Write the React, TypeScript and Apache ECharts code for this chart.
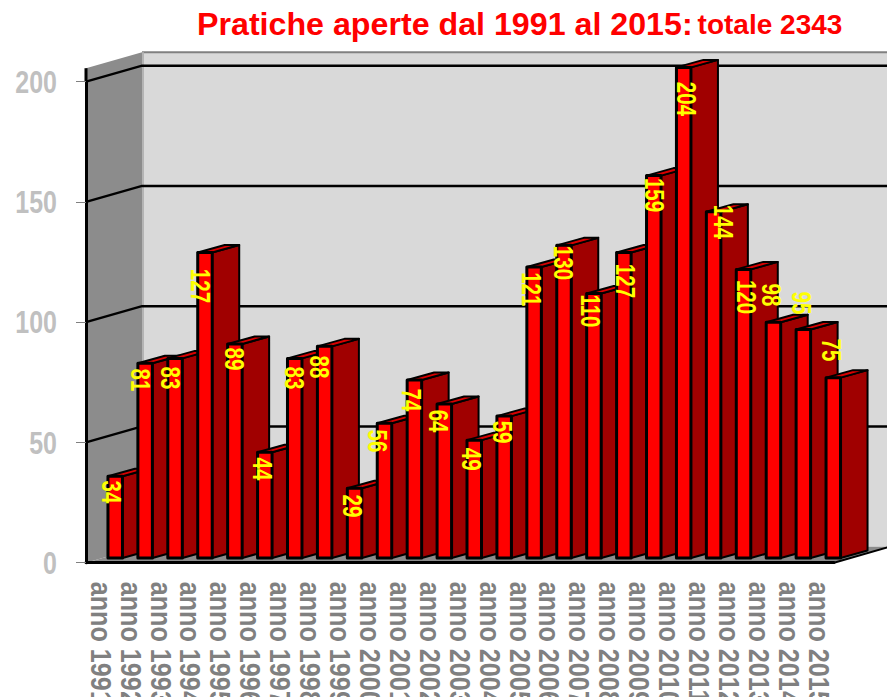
import React, { useEffect, useRef } from "react";
import * as echarts from "echarts";

const years = ["anno 1991","anno 1992","anno 1993","anno 1994","anno 1995","anno 1996","anno 1997","anno 1998","anno 1999","anno 2000","anno 2001","anno 2002","anno 2003","anno 2004","anno 2005","anno 2006","anno 2007","anno 2008","anno 2009","anno 2010","anno 2011","anno 2012","anno 2013","anno 2014","anno 2015"];
const pratiche = [34,81,83,127,89,44,83,88,29,56,74,64,49,59,121,130,110,127,159,204,144,120,98,95,75];
const gridValues = [0,50,100,150,200];

// label placement relative to the top-centre of each bar's front face
const labelShift = [[-3.9,15.8],[-4.1,16.8],[-4.7,19.6],[-4.5,33.4],[-0.7,15],[-1.8,16.8],[0.3,19.6],[-4.6,20.6],[-2.3,17.7],[-6.5,17.7],[-2.4,20],[-5.6,17],[-2.2,19],[-1.5,16],[-2.4,22.3],[-0.7,17.6],[-3.2,17.5],[1.9,28.4],[1.2,19.4],[3,31.6],[9.7,10.3],[3.5,27.6],[-1.7,-27.3],[-1.4,-26.5],[-1.3,-27.6]];

const FONT = "'Liberation Sans', Arial, sans-serif";
const WALL_DX = 56, WALL_DY = -16;
const BAR_DX = 27, BAR_DY = -7.5, BAR_W = 14.5, BAR_OFFX = 7, BAR_OFFY = -4.7;

function renderWalls(_p: any, api: any) {
  const [x0, y0] = api.coord([0, 0]);
  const bw = api.size([1, 0])[0];
  const left = x0 - bw / 2;
  const right = left + bw * years.length;
  const top = api.coord([0, 200])[1];
  const roof = top - 13.5;
  const children: any[] = [
    { type: "polygon", shape: { points: [[left + WALL_DX, roof + WALL_DY], [right + WALL_DX, roof + WALL_DY], [right + WALL_DX, y0 + WALL_DY], [left + WALL_DX, y0 + WALL_DY]] }, style: { fill: "#d9d9d9" } },
    { type: "polygon", shape: { points: [[left, roof], [left + WALL_DX, roof + WALL_DY], [left + WALL_DX, y0 + WALL_DY], [left, y0]] }, style: { fill: "#8c8c8c" } },
    { type: "polygon", shape: { points: [[left, y0], [left + WALL_DX, y0 + WALL_DY], [right + WALL_DX, y0 + WALL_DY], [right, y0]] }, style: { fill: "#8c8c8c" } },
    { type: "line", shape: { x1: left + WALL_DX, y1: roof + WALL_DY, x2: right + WALL_DX, y2: roof + WALL_DY }, style: { stroke: "#808080", lineWidth: 2 } },
    { type: "line", shape: { x1: left + WALL_DX + 1, y1: roof + WALL_DY, x2: left + WALL_DX + 1, y2: y0 + WALL_DY }, style: { stroke: "#b4b4b4", lineWidth: 2 } },
    { type: "line", shape: { x1: left, y1: roof, x2: left, y2: top }, style: { stroke: "#000", lineWidth: 3 } },
    { type: "line", shape: { x1: right, y1: y0, x2: right + WALL_DX, y2: y0 + WALL_DY }, style: { stroke: "#000", lineWidth: 2 } },
  ];
  gridValues.slice(1).forEach((v) => {
    const y = api.coord([0, v])[1];
    children.push({ type: "polyline", shape: { points: [[left, y], [left + WALL_DX, y + WALL_DY], [right + WALL_DX, y + WALL_DY]] }, style: { stroke: "#000", lineWidth: 2.4, fill: "none" } });
  });
  return { type: "group", children };
}

function renderBar(_p: any, api: any) {
  const i = api.value(0);
  const [cx, y0] = api.coord([i, 0]);
  const yTop = api.coord([i, api.value(1)])[1] + BAR_OFFY;
  const base = y0 + BAR_OFFY;
  const x1 = cx + BAR_OFFX;
  const x2 = x1 + BAR_W;
  const line = { stroke: "#000", lineWidth: 2, lineJoin: "round" };
  return {
    type: "group",
    children: [
      { type: "polygon", shape: { points: [[x2, base], [x2 + BAR_DX, base + BAR_DY], [x2 + BAR_DX, yTop + BAR_DY], [x2, yTop]] }, style: { fill: "#a00000", ...line } },
      { type: "polygon", shape: { points: [[x1, yTop], [x1 + BAR_DX, yTop + BAR_DY], [x2 + BAR_DX, yTop + BAR_DY], [x2, yTop]] }, style: { fill: "#d80000", ...line } },
      { type: "polygon", shape: { points: [[x1, base], [x1, yTop], [x2, yTop], [x2, base]] }, style: { fill: "#ff0000", stroke: "#000", lineWidth: 3, lineJoin: "round" } },
    ],
  };
}

function renderLabel(_p: any, api: any) {
  const i = api.value(0);
  const [cx] = api.coord([i, 0]);
  const v = api.value(1);
  const yTop = api.coord([i, v])[1] + BAR_OFFY;
  const [dx, dy] = labelShift[i];
  return {
    type: "text",
    x: cx + BAR_OFFX + BAR_W / 2 + dx,
    y: yTop + dy,
    rotation: -Math.PI / 2,
    scaleX: 0.76,
    style: { text: String(v), fill: "#ffff00", fontFamily: FONT, fontWeight: "bold", fontSize: 27, align: "center", verticalAlign: "middle" },
  };
}

function renderYearLabel(_p: any, api: any) {
  const i = api.value(0);
  const [cx, y0] = api.coord([i, 0]);
  return {
    type: "text",
    x: cx,
    y: y0 + 19,
    rotation: -Math.PI / 2,
    scaleX: 0.84,
    style: { text: years[i], fill: "#808080", fontFamily: FONT, fontWeight: "bold", fontSize: 30, align: "left", verticalAlign: "middle" },
  };
}

function renderValueLabel(_p: any, api: any) {
  const v = api.value(1);
  const [left, y] = api.coord([0, v]);
  const bw = api.size([1, 0])[0];
  return {
    type: "text",
    x: left - bw / 2 - 29,
    y,
    scaleX: 0.78,
    style: { text: String(v), fill: "#c0c0c0", fontFamily: FONT, fontWeight: "bold", fontSize: 32, align: "right", verticalAlign: "middle" },
  };
}

export default function App() {
  const ref = useRef<HTMLDivElement>(null);
  useEffect(() => {
    const chart = echarts.init(ref.current!, undefined, { renderer: "svg" });
    const barData = pratiche.map((v, i) => [i, v]);
    const custom = { type: "custom", clip: false, silent: true, encode: { x: 0, y: 1 } };
    chart.setOption({
      animation: false,
      backgroundColor: "#fff",
      title: {
        left: 197,
        top: 8,
        padding: 0,
        text: "{a|Pratiche aperte dal 1991 al 2015:} {b|totale 2343}",
        textStyle: {
          rich: {
            a: { fontFamily: FONT, fontWeight: "bold", fontSize: 32.2, color: "#ff0000" },
            b: { fontFamily: FONT, fontWeight: "bold", fontSize: 28, color: "#ff0000" },
          },
        },
      },
      grid: { left: 86, right: 53, top: 81.7, height: 481, outerBoundsMode: "none" },
      xAxis: {
        type: "category",
        data: years,
        z: 4,
        axisLine: { lineStyle: { color: "#000", width: 3 } },
        axisTick: { length: 8, lineStyle: { color: "#808080", width: 1 } },
        axisLabel: { show: false },
      },
      yAxis: {
        type: "value",
        min: 0,
        max: 200,
        interval: 50,
        z: 4,
        splitLine: { show: false },
        axisLine: { show: true, lineStyle: { color: "#000", width: 3 } },
        axisTick: { show: true, length: 10, lineStyle: { color: "#808080", width: 1 } },
        axisLabel: { show: false },
      },
      series: [
        { ...custom, z: 1, renderItem: renderWalls, data: [[0, 0]] },
        { ...custom, z: 2, renderItem: renderBar, data: barData },
        { ...custom, z: 3, renderItem: renderLabel, data: barData },
        { ...custom, z: 3, renderItem: renderYearLabel, data: barData },
        { ...custom, z: 3, renderItem: renderValueLabel, data: gridValues.map((v) => [0, v]) },
      ],
    });
    return () => chart.dispose();
  }, []);
  return <div ref={ref} style={{ position: "absolute", left: 0, top: 0, width: 887, height: 697 }} />;
}
